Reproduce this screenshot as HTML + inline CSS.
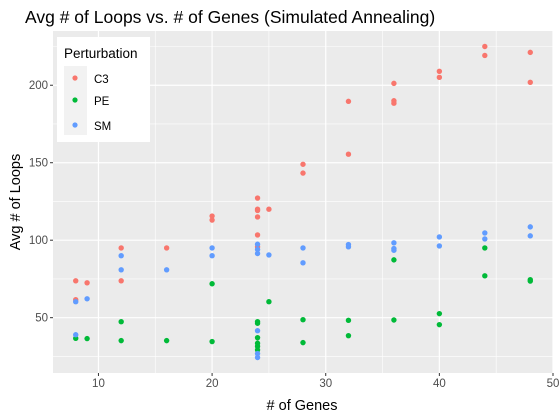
<!DOCTYPE html>
<html><head><meta charset="utf-8">
<style>
html,body{margin:0;padding:0;background:#fff;}
svg{display:block;font-family:"Liberation Sans",Arial,sans-serif;}
</style></head>
<body>
<svg id="chart" width="560" height="420" viewBox="0 0 560 420">
  <rect x="0" y="0" width="560" height="420" fill="#fff"/>
  <text x="25" y="23" font-size="17.5" fill="#000">Avg # of Loops vs. # of Genes (Simulated Annealing)</text>
  <rect x="53" y="31" width="500" height="342" fill="#ebebeb"/>
  <g id="grid"></g>
  <g id="axes"></g>
  <g id="points"></g>
  <text x="302" y="410" font-size="14.5" text-anchor="middle" fill="#000"># of Genes</text>
  <text transform="translate(20,202) rotate(-90)" font-size="14.5" text-anchor="middle" fill="#000">Avg # of Loops</text>
  <g>
    <rect x="57" y="37" width="93" height="105" fill="#fff"/>
    <text x="64" y="58" font-size="13.5" fill="#000">Perturbation</text>
    <rect x="64" y="66" width="23" height="69" fill="#f2f2f2"/>
    <circle cx="75" cy="78" r="2.6" fill="#F8766D"/>
    <text x="94" y="83" font-size="11.5" fill="#000">C3</text>
    <circle cx="75" cy="100" r="2.6" fill="#00BA38"/>
    <text x="94" y="105" font-size="11.5" fill="#000">PE</text>
    <circle cx="75" cy="125" r="2.6" fill="#619CFF"/>
    <text x="94" y="130" font-size="11.5" fill="#000">SM</text>
  </g>
</svg>
<script>
const xTicks = [10, 20, 30, 40, 50];
const yTicks = [50, 100, 150, 200];
const c3X = [8,8,9,12,12,16,20,20,24,24,24,24,24,24,25,28,28,32,32,36,36,36,40,40,44,44,48,48];
const c3Y = [73.8,61.6,72.5,95,73.8,95,115.6,113,127.2,120,119.2,115,103.4,95.7,120,149,143.3,189.6,155.5,201.2,190,188.4,209,205.1,225,219.2,221.2,201.9];
const peX = [8,9,12,12,16,20,20,24,24,24,24,24,24,25,28,28,32,32,36,36,40,40,44,44,48,48];
const peY = [36.7,36.5,47.4,35.2,35.2,71.9,34.6,47.4,46.4,37.1,33.5,31.5,29.2,60.3,48.7,33.9,48.3,38.4,87.3,48.5,52.6,45.5,95,77,74.5,73.6];
const smX = [8,8,9,12,12,16,20,20,24,24,24,24,24,24,25,28,28,32,32,36,36,36,40,40,44,44,48,48];
const smY = [60.3,39,62.2,90,80.9,80.9,95,90,97.4,94,91.4,41.6,26.8,24.3,90.5,95,85.4,97.2,95.7,98.3,94.6,93.5,102.1,96.3,104.7,100.8,108.6,102.8];

const NS = "http://www.w3.org/2000/svg";
const L = 53, R = 553, T = 31, B = 373;
const xMin = 6, xMax = 50, yMin = 14.3, yMax = 235;
function sx(v){ return L + (v - xMin) / (xMax - xMin) * (R - L); }
function sy(v){ return B - (v - yMin) / (yMax - yMin) * (B - T); }
function mk(tag, attrs, parent){
  const e = document.createElementNS(NS, tag);
  for (const k in attrs) e.setAttribute(k, attrs[k]);
  parent.appendChild(e); return e;
}
const grid = document.getElementById('grid');
const axes = document.getElementById('axes');
const pts = document.getElementById('points');
for (let i = 0; i < xTicks.length; i++) {
  const m = xTicks[i] - 5;
  if (m > xMin) {
    const ln = mk('line', {x1:sx(m), x2:sx(m), y1:T, y2:B, stroke:'#fff', 'stroke-width':0.6}, grid);
    
    
  }
}
for (let i = 0; i <= yTicks.length; i++) {
  const m = (i < yTicks.length ? yTicks[i] : yTicks[yTicks.length-1] + 50) - 25;
  if (m > yMin && m < yMax) {
    const ln = mk('line', {x1:L, x2:R, y1:sy(m), y2:sy(m), stroke:'#fff', 'stroke-width':0.6}, grid);
    
    
  }
}
xTicks.forEach(t => {
  const ln = mk('line', {x1:sx(t), x2:sx(t), y1:T, y2:B, stroke:'#fff', 'stroke-width':1.2}, grid);
  
  
  const tk = mk('line', {x1:sx(t), x2:sx(t), y1:B, y2:B+3, stroke:'#333', 'stroke-width':1}, axes);
  
  
  const tx = mk('text', {x:sx(t), y:B+14, 'font-size':11.5, fill:'#4d4d4d', 'text-anchor':'middle'}, axes);
  tx.textContent = t;
  
  
});
yTicks.forEach(t => {
  const ln = mk('line', {x1:L, x2:R, y1:sy(t), y2:sy(t), stroke:'#fff', 'stroke-width':1.2}, grid);
  
  
  const tk = mk('line', {x1:L-3, x2:L, y1:sy(t), y2:sy(t), stroke:'#333', 'stroke-width':1}, axes);
  
  
  const tx = mk('text', {x:L-5, y:sy(t)+4, 'font-size':11.5, fill:'#4d4d4d', 'text-anchor':'end'}, axes);
  tx.textContent = t;
  
  
});
function series(xs, ys, color, name){
  for (let i = 0; i < xs.length; i++) {
    const c = mk('circle', {cx:sx(xs[i]), cy:sy(ys[i]), r:2.7, fill:color}, pts);
    
    
  }
}
series(c3X, c3Y, '#F8766D', 'point-c3');
series(peX, peY, '#00BA38', 'point-pe');
series(smX, smY, '#619CFF', 'point-sm');
</script>
</body></html>
